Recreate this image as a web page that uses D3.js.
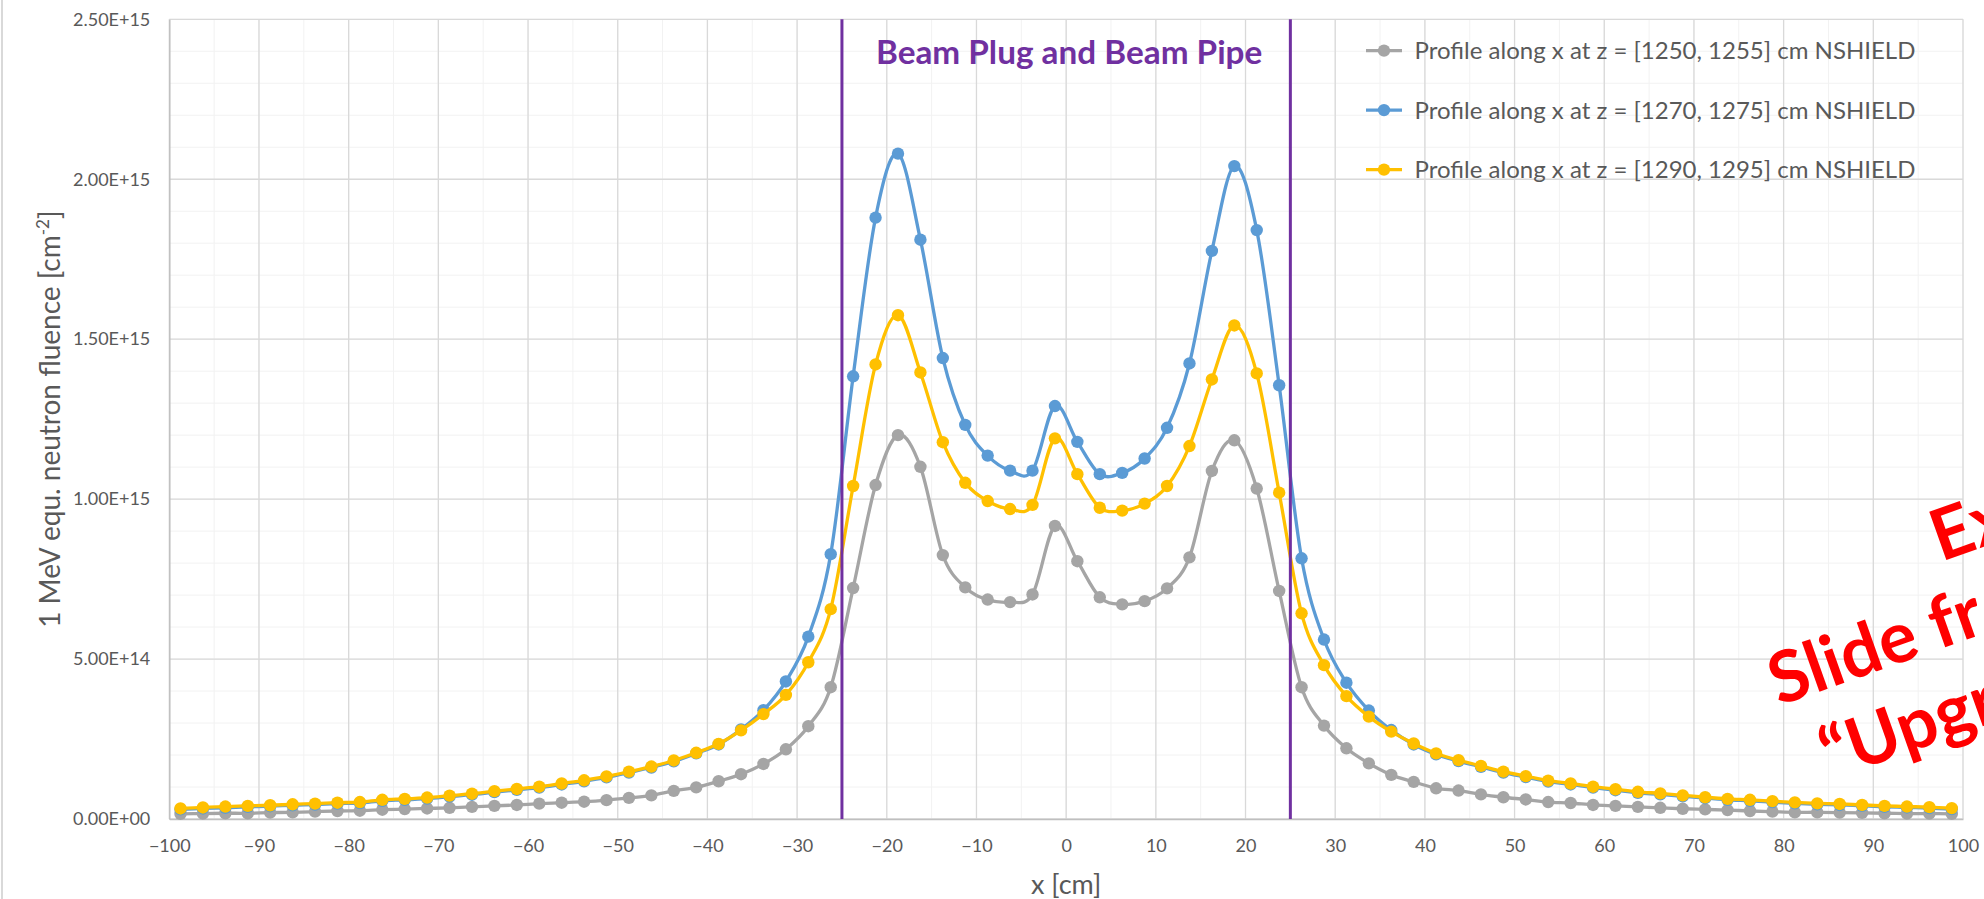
<!DOCTYPE html>
<html>
<head>
<meta charset="utf-8">
<script src="https://cdn.jsdelivr.net/npm/d3@7"></script>
<style>
  body { margin: 0; background: #fff; }
  svg { display: block; font-family: Lato, "Open Sans", sans-serif; }
</style>
</head>
<body>
<svg id="chart"></svg>
<script>
// bin centres along x [cm]
const xPositions = [
  -98.75, -96.25, -93.75, -91.25, -88.75, -86.25, -83.75, -81.25, -78.75, -76.25,
  -73.75, -71.25, -68.75, -66.25, -63.75, -61.25, -58.75, -56.25, -53.75, -51.25,
  -48.75, -46.25, -43.75, -41.25, -38.75, -36.25, -33.75, -31.25, -28.75, -26.25,
  -23.75, -21.25, -18.75, -16.25, -13.75, -11.25, -8.75, -6.25, -3.75, -1.25,
  1.25, 3.75, 6.25, 8.75, 11.25, 13.75, 16.25, 18.75, 21.25, 23.75,
  26.25, 28.75, 31.25, 33.75, 36.25, 38.75, 41.25, 43.75, 46.25, 48.75,
  51.25, 53.75, 56.25, 58.75, 61.25, 63.75, 66.25, 68.75, 71.25, 73.75,
  76.25, 78.75, 81.25, 83.75, 86.25, 88.75, 91.25, 93.75, 96.25, 98.75
];

// fluence in units of 1E+15 cm^-2
const fluence1250 = [
  0.016, 0.017, 0.018, 0.018, 0.020, 0.021, 0.023, 0.025, 0.026, 0.029,
  0.031, 0.033, 0.035, 0.038, 0.041, 0.044, 0.048, 0.051, 0.054, 0.059,
  0.066, 0.074, 0.088, 0.099, 0.118, 0.140, 0.172, 0.218, 0.290, 0.412,
  0.722, 1.044, 1.200, 1.101, 0.825, 0.724, 0.686, 0.678, 0.702, 0.916,
  0.806, 0.693, 0.671, 0.681, 0.721, 0.818, 1.088, 1.184, 1.033, 0.713,
  0.412, 0.292, 0.221, 0.174, 0.138, 0.116, 0.096, 0.089, 0.077, 0.068,
  0.061, 0.053, 0.050, 0.044, 0.041, 0.038, 0.035, 0.032, 0.030, 0.028,
  0.025, 0.023, 0.021, 0.021, 0.020, 0.019, 0.018, 0.017, 0.017, 0.016
];
const fluence1270 = [
  0.030, 0.033, 0.035, 0.038, 0.040, 0.043, 0.045, 0.048, 0.050, 0.057,
  0.060, 0.064, 0.070, 0.076, 0.084, 0.091, 0.098, 0.108, 0.118, 0.130,
  0.145, 0.161, 0.180, 0.205, 0.233, 0.280, 0.340, 0.430, 0.570, 0.828,
  1.384, 1.880, 2.080, 1.811, 1.441, 1.232, 1.136, 1.089, 1.089, 1.291,
  1.179, 1.078, 1.082, 1.127, 1.223, 1.424, 1.776, 2.041, 1.841, 1.356,
  0.815, 0.561, 0.426, 0.339, 0.278, 0.233, 0.202, 0.181, 0.163, 0.145,
  0.131, 0.117, 0.108, 0.098, 0.090, 0.082, 0.077, 0.071, 0.065, 0.060,
  0.057, 0.053, 0.049, 0.046, 0.044, 0.041, 0.038, 0.036, 0.034, 0.031
];
const fluence1290 = [
  0.033, 0.036, 0.039, 0.041, 0.043, 0.046, 0.048, 0.051, 0.053, 0.060,
  0.063, 0.067, 0.073, 0.079, 0.087, 0.094, 0.101, 0.111, 0.121, 0.133,
  0.148, 0.164, 0.183, 0.207, 0.235, 0.277, 0.328, 0.388, 0.490, 0.656,
  1.041, 1.421, 1.575, 1.396, 1.178, 1.051, 0.994, 0.969, 0.982, 1.190,
  1.078, 0.973, 0.964, 0.986, 1.041, 1.166, 1.374, 1.543, 1.393, 1.020,
  0.643, 0.481, 0.384, 0.320, 0.273, 0.236, 0.205, 0.184, 0.166, 0.148,
  0.134, 0.120, 0.111, 0.101, 0.093, 0.085, 0.080, 0.074, 0.068, 0.063,
  0.060, 0.056, 0.052, 0.049, 0.047, 0.044, 0.041, 0.039, 0.037, 0.034
];

const seriesNames = [
  "Profile along x at z = [1250, 1255] cm NSHIELD",
  "Profile along x at z = [1270, 1275] cm NSHIELD",
  "Profile along x at z = [1290, 1295] cm NSHIELD"
];
const seriesValues = [fluence1250, fluence1270, fluence1290];
const seriesColors = ["#a5a5a5", "#5b9bd5", "#ffc000"];

const xTicks = [-100, -90, -80, -70, -60, -50, -40, -30, -20, -10, 0, 10, 20, 30, 40, 50, 60, 70, 80, 90, 100];
const yTicks = [0, 0.5, 1, 1.5, 2, 2.5];
const yTickLabels = ["0.00E+00", "5.00E+14", "1.00E+15", "1.50E+15", "2.00E+15", "2.50E+15"];
const regionEdges = [-25, 25];
const regionLabel = "Beam Plug and Beam Pipe";
const watermark = ["Ex", "Slide fr", "\u201cUpgr"];

const width = 1984, height = 899;
const marginLeft = 169.3, marginRight = 21, marginTop = 19.3, marginBottom = 80;

const svg = d3.select("#chart").attr("width", width).attr("height", height);

const x = d3.scaleLinear().domain([-100, 100]).range([marginLeft, width - marginRight]);
const y = d3.scaleLinear().domain([0, 2.5]).range([height - marginBottom, marginTop]);

// chart frame
svg.append("line").attr("x1", 2).attr("x2", 2).attr("y1", 0).attr("y2", height)
  .attr("stroke", "#d9d9d9").attr("stroke-width", 2);

// minor grid
const grid = svg.append("g");
grid.selectAll(".vminor").data(x.ticks(40))
  .join("line")
  .attr("x1", d => x(d)).attr("x2", d => x(d))
  .attr("y1", y(2.5)).attr("y2", y(0))
  .attr("stroke", "#f2f2f2").attr("stroke-width", 1);
grid.selectAll(".hminor").data(y.ticks(25))
  .join("line")
  .attr("x1", x(-100)).attr("x2", x(100))
  .attr("y1", d => y(d)).attr("y2", d => y(d))
  .attr("stroke", "#f2f2f2").attr("stroke-width", 1);

// major grid
grid.selectAll(".vmajor").data(xTicks)
  .join("line")
  .attr("x1", d => x(d)).attr("x2", d => x(d))
  .attr("y1", y(2.5)).attr("y2", y(0))
  .attr("stroke", "#d9d9d9").attr("stroke-width", 1.3);
grid.selectAll(".hmajor").data(yTicks)
  .join("line")
  .attr("x1", x(-100)).attr("x2", x(100))
  .attr("y1", d => y(d)).attr("y2", d => y(d))
  .attr("stroke", "#d9d9d9").attr("stroke-width", 1.3);

// axes
const xAxis = svg.append("g")
  .attr("transform", `translate(0,${y(0)})`)
  .call(d3.axisBottom(x).tickValues(xTicks).tickSize(0).tickPadding(20));
xAxis.select(".domain").attr("stroke", "#bfbfbf").attr("stroke-width", 1.5);

const yAxis = svg.append("g")
  .attr("transform", `translate(${x(-100)},0)`)
  .call(d3.axisLeft(y).tickValues(yTicks).tickFormat((d, i) => yTickLabels[i]).tickSize(0).tickPadding(19));
yAxis.select(".domain").attr("stroke", "#bfbfbf").attr("stroke-width", 1.5);

svg.selectAll(".tick text")
  .attr("font-family", "Lato, sans-serif")
  .attr("font-size", 18)
  .attr("fill", "#595959");

// axis titles
svg.append("text")
  .attr("x", x(0)).attr("y", 894)
  .attr("text-anchor", "middle")
  .attr("font-size", 27).attr("fill", "#595959")
  .text("x [cm]");

const yTitle = svg.append("text")
  .attr("transform", `translate(60,${(y(0) + y(2.5)) / 2}) rotate(-90)`)
  .attr("text-anchor", "middle")
  .attr("font-size", 28).attr("fill", "#595959");
yTitle.append("tspan").text("1 MeV equ. neutron fluence [cm");
yTitle.append("tspan").attr("font-size", 17).attr("dy", -11).text("-2");
yTitle.append("tspan").attr("dy", 11).text("]");

// series
const line = d3.line()
  .x((d, i) => x(xPositions[i]))
  .y(d => y(d))
  .curve(d3.curveCardinal.tension(0));

seriesValues.forEach((vals, s) => {
  const g = svg.append("g");
  g.append("path")
    .datum(vals)
    .attr("d", line)
    .attr("fill", "none")
    .attr("stroke", seriesColors[s])
    .attr("stroke-width", 3.3);
  g.selectAll("circle")
    .data(vals)
    .join("circle")
    .attr("cx", (d, i) => x(xPositions[i]))
    .attr("cy", d => y(d))
    .attr("r", 6.2)
    .attr("fill", seriesColors[s]);
});

// beam plug region
svg.selectAll(".edge").data(regionEdges)
  .join("line")
  .attr("x1", d => x(d)).attr("x2", d => x(d))
  .attr("y1", y(2.5)).attr("y2", y(0))
  .attr("stroke", "#7030a0").attr("stroke-width", 3);

svg.append("text")
  .attr("x", (x(regionEdges[0]) + x(regionEdges[1])) / 2 + 3)
  .attr("y", 64)
  .attr("text-anchor", "middle")
  .attr("font-size", 33.3).attr("font-weight", 700)
  .attr("fill", "#7030a0")
  .text(regionLabel);

// legend
const legend = svg.append("g");
seriesNames.forEach((name, s) => {
  const ly = 50.6 + s * 59.5;
  legend.append("line")
    .attr("x1", 1366).attr("x2", 1402)
    .attr("y1", ly).attr("y2", ly)
    .attr("stroke", seriesColors[s]).attr("stroke-width", 3.3);
  legend.append("circle")
    .attr("cx", 1384).attr("cy", ly).attr("r", 6.2)
    .attr("fill", seriesColors[s]);
  legend.append("text")
    .attr("x", 1414.6).attr("y", ly + 8.5)
    .attr("font-size", 24).attr("fill", "#595959")
    .text(name);
});

// red stamp over the corner (cut by the right edge, as in the slide)
const stamp = svg.append("g")
  .attr("font-size", 71).attr("font-weight", 700).attr("fill", "#ff0000");
[[1941, 562], [1779, 706], [1831, 780]].forEach((p, i) => {
  stamp.append("text")
    .attr("transform", `translate(${p[0]},${p[1]}) rotate(-19.5)`)
    .text(watermark[i]);
});
</script>
</body>
</html>
